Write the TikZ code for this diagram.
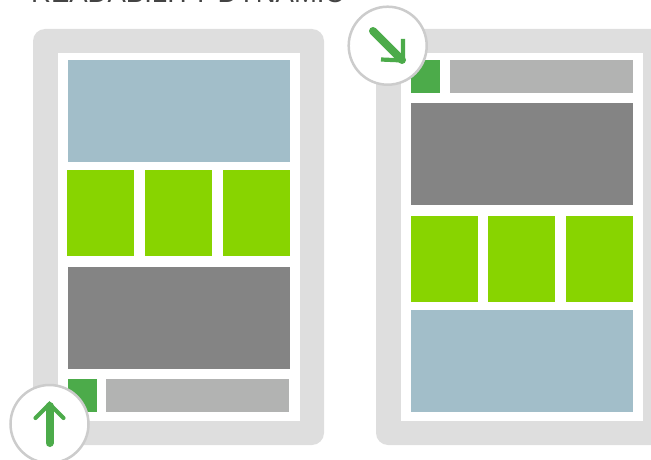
\documentclass[tikz,border=0pt]{standalone}
\usepackage{fontspec}
\setmainfont{Liberation Sans}
\definecolor{frameg}{HTML}{DEDEDE}
\definecolor{blueg}{HTML}{A2BEC9}
\definecolor{lime}{HTML}{88D400}
\definecolor{darkg}{HTML}{848484}
\definecolor{midg}{HTML}{B2B3B2}
\definecolor{leaf}{HTML}{4CAB4A}
\definecolor{ringg}{HTML}{CCCCCC}
\definecolor{titleg}{HTML}{444444}
\tikzset{x=1pt,y=-1pt,
 device/.style={fill=frameg,rounded corners=12pt},
 screen/.style={fill=white},
 badge/.style={circle,draw=ringg,line width=2.5pt,fill=white,minimum size=78pt,inner sep=0pt},
 shaft/.style={draw=leaf,line width=8pt,line cap=round},
 head/.style={draw=leaf,line width=4.2pt}}
\newcommand{\blk}[5]{\fill[#1] (#2,#3) rectangle (#4,#5);}
\begin{document}
\begin{tikzpicture}
\useasboundingbox (0,0) rectangle (651,460);
\begin{scope}
\clip (0,0) rectangle (651,460);
\node[anchor=base west,font=\fontsize{27.5}{27.5}\selectfont,text=titleg,inner sep=0pt] (title) at (31,2.8) {READABILITY DYNAMIC};
\fill[device] (33,29) rectangle (324,445);
\fill[screen] (58,53) rectangle (300,421);
\blk{blueg}{68}{60}{290}{162}
\blk{lime}{67}{170}{134}{256}
\blk{lime}{145}{170}{212}{256}
\blk{lime}{223}{170}{290}{256}
\blk{darkg}{68}{267}{290}{369}
\blk{leaf}{68}{379}{97}{412}
\blk{midg}{106}{379}{289}{412}
\fill[device] (376,29) rectangle (690,445);
\fill[screen] (401,53) rectangle (643,421);
\blk{leaf}{411}{60}{440}{93}
\blk{midg}{450}{60}{633}{93}
\blk{darkg}{411}{103}{633}{205}
\blk{lime}{411}{216}{478}{302}
\blk{lime}{488}{216}{555}{302}
\blk{lime}{566}{216}{633}{302}
\blk{blueg}{411}{310}{633}{412}
\node[badge] (b1) at (49.5,424) {};
\node[badge] (b2) at (387.7,45.7) {};
\draw[shaft] (49.5,443) -- (49.5,406);
\draw[head,line cap=round] (35.5,418) -- (49.5,404) -- (63.5,418);
\draw[shaft] (373,31) -- (402,60);
\draw[head] (381,59.5) -- (404,60.5) (403,39) -- (403,61);
\end{scope}
\end{tikzpicture}
\end{document}
